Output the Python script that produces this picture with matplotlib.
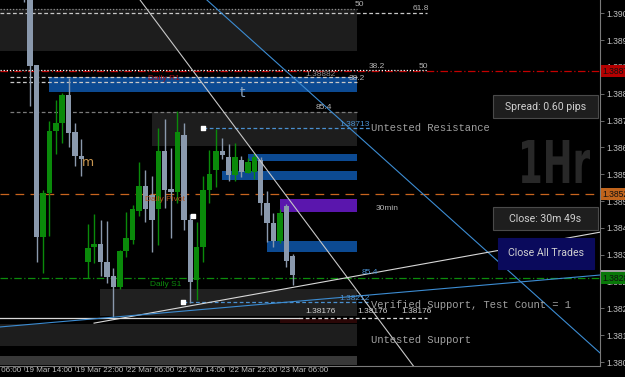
import matplotlib
matplotlib.use("Agg")
import matplotlib.pyplot as plt
from matplotlib.patches import Rectangle, PathPatch
from matplotlib.textpath import TextPath
from matplotlib.font_manager import FontProperties
from matplotlib.transforms import blended_transform_factory, Affine2D, IdentityTransform

# hourly bars, index 0 = 19 Mar 14:00 (weekend gap after index 9)
opens = [1.39251, 1.39108, 1.38892, 1.38399, 1.38525, 1.38703, 1.38726, 1.38806, 1.38700, 1.38631,
         1.38327, 1.38370, 1.38379, 1.38327, 1.38287, 1.38255, 1.38359, 1.38390, 1.38473, 1.38545,
         1.38519, 1.38479, 1.38646, 1.38537, 1.38528, 1.38692, 1.38448, 1.38275, 1.38370, 1.38534,
         1.38591, 1.38646, 1.38628, 1.38577, 1.38620, 1.38582, 1.38585, 1.38620, 1.38496, 1.38439,
         1.38387, 1.38488, 1.38344]
highs = [1.39280, 1.39122, 1.38892, 1.38534, 1.38732, 1.38792, 1.38812, 1.38855, 1.38726, 1.38680,
         1.38436, 1.38465, 1.38448, 1.38445, 1.38310, 1.38361, 1.38471, 1.38491, 1.38614, 1.38591,
         1.38574, 1.38712, 1.38737, 1.38654, 1.38760, 1.38726, 1.38465, 1.38442, 1.38574, 1.38648,
         1.38709, 1.38683, 1.38666, 1.38669, 1.38631, 1.38625, 1.38640, 1.38628, 1.38531, 1.38468,
         1.38479, 1.38493, 1.38350]
lows = [1.39073, 1.38775, 1.38327, 1.38295, 1.38402, 1.38637, 1.38669, 1.38657, 1.38603, 1.38574,
        1.38281, 1.38324, 1.38287, 1.38267, 1.38169, 1.38250, 1.38341, 1.38379, 1.38459, 1.38442,
        1.38356, 1.38376, 1.38482, 1.38396, 1.38496, 1.38419, 1.38209, 1.38218, 1.38327, 1.38496,
        1.38542, 1.38623, 1.38559, 1.38559, 1.38571, 1.38582, 1.38565, 1.38462, 1.38384, 1.38370,
        1.38382, 1.38313, 1.38261]
closes = [1.39136, 1.38890, 1.38399, 1.38525, 1.38703, 1.38726, 1.38806, 1.38697, 1.38631, 1.38623,
          1.38367, 1.38379, 1.38327, 1.38284, 1.38255, 1.38359, 1.38396, 1.38479, 1.38545, 1.38480,
          1.38448, 1.38646, 1.38534, 1.38528, 1.38700, 1.38448, 1.38270, 1.38370, 1.38534, 1.38580,
          1.38646, 1.38634, 1.38577, 1.38628, 1.38585, 1.38614, 1.38628, 1.38496, 1.38439, 1.38387,
          1.38468, 1.38330, 1.38290]

time_ticks = [-8, 0, 8, 16, 24, 32, 40]
time_labels = ["19 Mar 06:00", "19 Mar 14:00", "19 Mar 22:00", "22 Mar 06:00",
               "22 Mar 14:00", "22 Mar 22:00", "23 Mar 06:00"]
price_ticks = [1.38040, 1.38117, 1.38194, 1.38271, 1.38348, 1.38425, 1.38502,
               1.38579, 1.38656, 1.38733, 1.38810, 1.38887, 1.38964, 1.39041]
price_labels = ["1.3804", "1.3812", "1.3820", "1.3828", "1.3835", "1.3843", "1.3850",
                "1.3858", "1.3866", "1.3873", "1.3881", "1.3889", "1.3896", "1.3904"]

GRAY_Z = "#1d1d1d"
BLUE_Z = "#0c4a92"
# supply / demand zones: start bar, end bar, low, high, colour
zones = [
    (-3.72, 52.06, 1.38933, 1.39053, GRAY_Z),
    (3.9, 52.06, 1.38815, 1.38858, BLUE_Z),
    (20.0, 52.06, 1.38660, 1.38758, GRAY_Z),
    (35.0, 52.06, 1.38617, 1.38637, BLUE_Z),
    (31.0, 52.06, 1.38562, 1.38588, BLUE_Z),
    (40.0, 52.06, 1.38471, 1.38508, "#5a16ad"),
    (38.0, 52.06, 1.38356, 1.38387, BLUE_Z),
    (11.9, 52.06, 1.38172, 1.38250, "#202020"),
    (40.0, 52.06, 1.38152, 1.38163, "#2a0606"),
    (-3.72, 52.06, 1.38086, 1.38149, GRAY_Z),
    (-3.72, 52.06, 1.38031, 1.38057, "#383838"),
]

DOT = (0, (1, 1.5))
DASH = (0, (3, 2))
# horizontal levels: start bar, end bar, price, colour, style
levels = [
    (-3.72, 52.06, 1.39053, "#8c8c8c", DOT),
    (-3.72, 63.0, 1.39042, "#c8c8c8", DASH),
    (-3.72, 90.1, 1.38875, "#c40000", (0, (6, 2, 1, 2))),
    (-3.72, 63.0, 1.38877, "#ffffff", DOT),
    (-2.16, 52.06, 1.38858, "#c8c8c8", DASH),
    (-2.16, 52.06, 1.38844, "#c8c8c8", DASH),
    (-2.16, 52.06, 1.38758, "#7a7a7a", DASH),
    (28.0, 54.1, 1.38713, "#4a90d0", DASH),
    (-3.72, 90.1, 1.38522, "#c8641e", (0, (7, 5))),
    (-3.72, 90.1, 1.38281, "#0c8c0c", (0, (6, 2, 1, 2))),
    (24.9, 54.1, 1.38212, "#4a90d0", DASH),
    (-3.72, 43.0, 1.38168, "#d8d8d8", "-"),
    (43.0, 63.0, 1.38168, "#d8d8d8", DASH),
]

# trend lines: bars, prices, colour
trendlines = [
    ([18.16, 61.1], [1.39079, 1.38023], "#c8c8c8"),
    ([28.6, 90.03], [1.39079, 1.38066], "#3c8cd2"),
    ([10.97, 90.03], [1.38152, 1.38413], "#d8d8d8"),
    ([-3.72, 90.03], [1.38141, 1.38290], "#3c8cd2"),
]

markers_x = [28.0, 24.9, 26.4]
markers_y = [1.38713, 1.38212, 1.38459]

# chart labels: bar, price, text, colour, alignment
labels = [
    (51.75, 1.39065, "50", "#b4b4b4", "left"),
    (60.8, 1.39056, "61.8", "#b4b4b4", "left"),
    (53.8, 1.38887, "38.2", "#b4b4b4", "left"),
    (61.7, 1.38887, "50", "#b4b4b4", "left"),
    (43.9, 1.38866, "1.38882", "#8c8c8c", "left"),
    (50.8, 1.38853, "38.2", "#b4b4b4", "left"),
    (45.6, 1.38772, "85.4", "#b4b4b4", "left"),
    (19.4, 1.38853, "Daily R1", "#a00a14", "left"),
    (54.1, 1.38722, "1.38713", "#4a90d0", "right"),
    (19.0, 1.38508, "Daily Pivot", "#b4521c", "left"),
    (55.0, 1.38482, "30min", "#b4b4b4", "left"),
    (52.7, 1.38297, "85.4", "#4a90d0", "left"),
    (19.7, 1.38264, "Daily S1", "#0c8c0c", "left"),
    (54.1, 1.38222, "1.38212", "#4a90d0", "right"),
    (43.9, 1.38184, "1.38176", "#d0d0d0", "left"),
    (52.06, 1.38184, "1.38176", "#d0d0d0", "left"),
    (58.9, 1.38184, "1.38176", "#d0d0d0", "left"),
]
zone_notes = [
    (54.2, 1.38712, "Untested Resistance"),
    (54.2, 1.38204, "Verified Support, Test Count = 1"),
    (54.2, 1.38103, "Untested Support"),
]

fig = plt.figure(figsize=(6.25, 3.77), dpi=100, facecolor="black")
ax = fig.add_axes([0, 11 / 377, 600 / 625, 366 / 377])
ax.set_facecolor("black")

for x0, x1, lo, hi, c in zones:
    ax.add_patch(Rectangle((x0, lo), x1 - x0, hi - lo, facecolor=c, edgecolor="none", zorder=1))

for x0, x1, p, c, ls in levels:
    ax.plot([x0, x1], [p, p], color=c, lw=0.9, linestyle=ls, zorder=2)

# candles
for i in range(len(opens)):
    up = closes[i] >= opens[i]
    col = "#0a8a0a" if up else "#8a99ad"
    ax.vlines(i, lows[i], highs[i], color=col, lw=1.0, zorder=3)
    lo = min(opens[i], closes[i])
    h = max(abs(closes[i] - opens[i]), 0.00003)
    ax.bar(i, h, bottom=lo, width=0.86, color=col, edgecolor="none", zorder=3)

for xs, ys, c in trendlines:
    ax.plot(xs, ys, color=c, lw=0.8, zorder=4)

ax.scatter(markers_x, markers_y, marker="s", s=7, color="white", zorder=5)

small = dict(family="Liberation Sans", fontsize=6)
for x, y, t, c, ha in labels:
    ax.text(x, y, t, color=c, ha=ha, va="center", zorder=6, **small)
ax.text(34.1, 1.38812, "t", color="#8aa4c0", fontsize=10, ha="center", va="center", zorder=6)
ax.text(10.0, 1.38614, "m", color="#c89650", fontsize=9, ha="center", va="center", zorder=6)
for x, y, t in zone_notes:
    ax.text(x, y, t, color="#a0a0a0", family="Liberation Mono", fontsize=7.6,
            ha="left", va="center", zorder=6)

# axes styling
for s in ["left", "top"]:
    ax.spines[s].set_visible(False)
for s in ["right", "bottom"]:
    ax.spines[s].set_color("#7a7a7a")
    ax.spines[s].set_linewidth(0.8)
ax.yaxis.tick_right()
ax.set_yticks(price_ticks, price_labels)
ax.tick_params(axis="y", length=3, width=0.6, color="#7a7a7a", labelcolor="#c0c0c0",
               labelsize=6.2, pad=1.5)
for lab in ax.get_yticklabels():
    lab.set_family("Liberation Sans")
ax.set_xticks(time_ticks)
ax.tick_params(axis="x", length=3, width=0.6, color="#7a7a7a", labelbottom=False)
ax.set_xlim(-3.72, 90.0)
ax.set_ylim(1.38029, 1.39079)
tb = blended_transform_factory(ax.transData, ax.transAxes)
for t, lab in zip(time_ticks, time_labels):
    ax.text(t + 0.15, -0.003, lab, transform=tb, color="#c0c0c0", family="Liberation Sans",
            fontsize=5.8, ha="left", va="top", clip_on=False)

# price tags on the scale
tr = blended_transform_factory(ax.transAxes, ax.transData)
tags = [(1.38875, "1.3887", "#b40000"), (1.38522, "1.3852", "#c0641c"),
        (1.38281, "1.3828", "#087808")]
ax.add_patch(Rectangle((1.002, 1.38291), 0.05, 0.00012, transform=tr, facecolor="#a0a0a0",
                       edgecolor="none", clip_on=False, zorder=7))
for p, t, c in tags:
    ax.text(1.004, p, t, transform=tr, color="#101010", family="Liberation Sans", fontsize=6.2,
            ha="left", va="center", clip_on=False, zorder=8,
            bbox=dict(boxstyle="square,pad=0.2", facecolor=c, edgecolor="none"))

# panel widgets
def panel(x, y, w, h, fc, ec, text):
    fig.add_artist(Rectangle((x, y), w, h, transform=fig.transFigure, facecolor=fc,
                             edgecolor=ec, lw=0.8, zorder=9))
    fig.text(x + w / 2, y + h / 2, text, color="#d0d0d0", family="Roboto", fontsize=7.6,
             ha="center", va="center", zorder=10)

panel(0.7888, 0.687, 0.168, 0.061, "#1e1e1e", "#4a4a4a", "Spread: 0.60 pips")
panel(0.7888, 0.3899, 0.168, 0.061, "#1e1e1e", "#4a4a4a", "Close: 30m 49s")
panel(0.7968, 0.2865, 0.1536, 0.0822, "#0a0a5c", "#0a0a5c", "Close All Trades")

# big timeframe watermark
tp = TextPath((0, 0), "1Hr", size=1, prop=FontProperties(family="DejaVu Sans", weight="bold"))
ext = tp.get_extents()
sx = 68 / ext.width
sy = 43 / ext.height
trans = Affine2D().translate(-ext.x0, -ext.y0).scale(sx, sy).translate(522, 377 - 183)
fig.add_artist(PathPatch(tp, transform=trans + IdentityTransform(), facecolor="#282828",
                         edgecolor="none", zorder=1))

fig.savefig("out.png", dpi=100, facecolor="black")
